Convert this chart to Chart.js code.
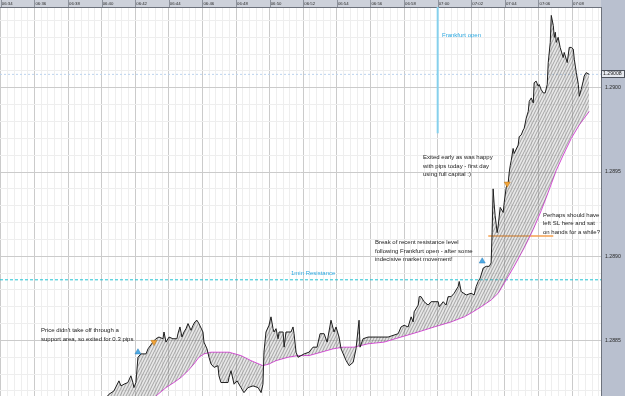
<!DOCTYPE html>
<html>
<head>
<meta charset="utf-8">
<script src="https://cdn.jsdelivr.net/npm/chart.js@4.4.1/dist/chart.umd.min.js"></script>
<style>
  html, body { margin: 0; padding: 0; background: #ffffff; }
  canvas { display: block; }
</style>
</head>
<body>
<canvas id="chart" width="625" height="396"></canvas>
<script>
// time in minutes after 06:00, prices
var priceTime = [39.96, 40.43, 40.73, 41.03, 41.15, 41.33, 41.56, 41.74, 41.86, 41.92, 42.04, 42.16, 42.34, 42.64, 42.76,
    43.05, 43.23, 43.41, 43.65, 43.71, 43.83, 44.01, 44.24, 44.48, 44.54, 44.66, 44.78, 44.90, 45.02, 45.14, 45.32, 45.44,
    45.55, 45.67, 45.79, 46.03, 46.09, 46.27, 46.39, 46.51, 46.69, 46.92, 46.98, 47.10, 47.28, 47.52, 47.58, 47.70, 47.88,
    48.06, 48.29, 48.47, 48.71, 49.01, 49.31, 49.49, 49.60, 49.66, 49.78, 49.96, 50.08, 50.20, 50.26, 50.38, 50.50, 50.56,
    50.80, 50.86, 50.97, 51.27, 51.39, 51.45, 51.57, 51.69, 52.05, 52.34, 52.58, 52.82, 53.00, 53.24, 53.42, 53.65, 53.83,
    53.95, 54.13, 54.25, 54.55, 54.73, 54.97, 55.14, 55.32, 55.38, 55.56, 55.86, 56.45, 57.05, 57.65, 57.82, 58.00, 58.24,
    58.42, 58.54, 58.60, 58.84, 58.90, 59.01, 59.19, 59.43, 59.61, 60.03, 60.09, 60.33, 60.50, 60.62, 60.80, 60.98, 61.22,
    61.28, 61.40, 61.70, 61.99, 62.17, 62.29, 62.41, 62.53, 62.71, 62.89, 63.07, 63.18, 63.24, 63.30, 63.36, 63.42, 63.54,
    63.60, 63.72, 63.90, 63.96, 64.08, 64.20, 64.26, 64.32, 64.38, 64.49, 64.55, 64.79, 64.85, 64.97, 65.09, 65.15, 65.27,
    65.39, 65.45, 65.57, 65.69, 65.74, 65.86, 65.98, 66.04, 66.16, 66.28, 66.40, 66.52, 66.58, 66.70, 66.76, 66.88, 66.94,
    67.00, 67.06, 67.17, 67.29, 67.47, 67.53, 67.71, 67.83, 67.95, 68.07, 68.13, 68.25, 68.37, 68.43, 68.54, 68.66, 68.72,
    68.84, 69.02];
var priceValue = [1.28812, 1.28818, 1.28820, 1.28826, 1.28823, 1.28824, 1.28825, 1.28829, 1.28825, 1.28822, 1.28825,
    1.28840, 1.28842, 1.28842, 1.28845, 1.28849, 1.28851, 1.28852, 1.28851, 1.28855, 1.28849, 1.28852, 1.28851, 1.28851,
    1.28854, 1.28858, 1.28852, 1.28855, 1.28857, 1.28860, 1.28856, 1.28859, 1.28861, 1.28862, 1.28860, 1.28855, 1.28849,
    1.28845, 1.28840, 1.28836, 1.28834, 1.28835, 1.28829, 1.28825, 1.28825, 1.28825, 1.28828, 1.28832, 1.28824, 1.28826,
    1.28822, 1.28819, 1.28822, 1.28823, 1.28822, 1.28819, 1.28824, 1.28843, 1.28855, 1.28859, 1.28864, 1.28857, 1.28855,
    1.28857, 1.28851, 1.28855, 1.28855, 1.28846, 1.28855, 1.28855, 1.28858, 1.28854, 1.28843, 1.28840, 1.28842, 1.28843,
    1.28846, 1.28846, 1.28854, 1.28854, 1.28849, 1.28862, 1.28855, 1.28858, 1.28852, 1.28845, 1.28838, 1.28835, 1.28837,
    1.28845, 1.28862, 1.28846, 1.28851, 1.28852, 1.28852, 1.28852, 1.28854, 1.28858, 1.28859, 1.28858, 1.28864, 1.28861,
    1.28867, 1.28871, 1.28876, 1.28876, 1.28873, 1.28871, 1.28873, 1.28873, 1.28870, 1.28873, 1.28871, 1.28876, 1.28876,
    1.28878, 1.28882, 1.28885, 1.28879, 1.28877, 1.28878, 1.28877, 1.28882, 1.28885, 1.28887, 1.28893, 1.28894, 1.28894,
    1.28896, 1.28914, 1.28940, 1.28931, 1.28924, 1.28914, 1.28918, 1.28929, 1.28926, 1.28932, 1.28941, 1.28944, 1.28950,
    1.28954, 1.28957, 1.28964, 1.28961, 1.28966, 1.28971, 1.28972, 1.28975, 1.28976, 1.28982, 1.28986, 1.28992, 1.28994,
    1.28991, 1.29003, 1.29004, 1.29001, 1.29002, 1.28999, 1.28997, 1.28997, 1.29002, 1.29015, 1.29027, 1.29043, 1.29037,
    1.29030, 1.29033, 1.29027, 1.29030, 1.29024, 1.29018, 1.29021, 1.29015, 1.29024, 1.29024, 1.29023, 1.29017, 1.29009,
    1.29002, 1.28995, 1.28999, 1.29004, 1.29007, 1.29009, 1.29008];

// slowest moving average of the ribbon (magenta)
var slowTime = [39.96, 41.74, 43.35, 43.83, 44.30, 44.72, 45.14, 45.49, 45.79, 46.09, 46.51, 47.10, 47.58, 48.29, 48.89,
    49.60, 49.96, 50.38, 51.09, 51.69, 52.34, 53.06, 53.77, 54.37, 55.02, 55.86, 56.81, 57.82, 58.84, 59.79, 60.80, 61.58,
    62.11, 62.59, 63.18, 63.60, 63.96, 64.55, 65.15, 65.69, 66.16, 66.58, 67.06, 67.47, 67.95, 68.43, 69.02];
var slowValue = [1.28791, 1.28804, 1.28818, 1.28822, 1.28825, 1.28828, 1.28832, 1.28836, 1.28840, 1.28842, 1.28843,
    1.28843, 1.28843, 1.28841, 1.28838, 1.28835, 1.28836, 1.28838, 1.28840, 1.28841, 1.28841, 1.28843, 1.28845, 1.28846,
    1.28846, 1.28848, 1.28849, 1.28852, 1.28855, 1.28858, 1.28861, 1.28864, 1.28867, 1.28870, 1.28874, 1.28878, 1.28884,
    1.28894, 1.28905, 1.28916, 1.28927, 1.28938, 1.28951, 1.28960, 1.28970, 1.28978, 1.28986];

var buyTime = [42.16, 62.65];
var buyPrice = [1.28843, 1.28897];
var sellTime = [43.11, 64.14];
var sellPrice = [1.28849, 1.28943];

var resistance = 1.28886;
var stopLevel = 1.28912;
var stopFrom = 63.01, stopTo = 66.88;
var frankfurtTime = 60;
var frankfurtLow = 1.28973;
var lastPrice = 1.29008;

var timeMin = 33.95, timeMax = 69.72;
var priceMin = 1.28817, priceMax = 1.29048;
var timeStep = 0.4, priceStep = 0.0001;

var notes = [
    { x: 442, y: 35, color: "#2ba8e0", lines: ["Frankfurt open"] },
    { x: 291, y: 273, color: "#2ba8e0", lines: ["1min Resistance"] },
    { x: 423, y: 157.5, color: "#1c1c1c", lines: ["Exited early as was happy", "with pips today - first day", "using full capital :)"] },
    { x: 543, y: 215, color: "#1c1c1c", lines: ["Perhaps should have", "left SL here and sat", "on hands for a while?"] },
    { x: 375, y: 242.5, color: "#1c1c1c", lines: ["Break of recent resistance level", "following Frankfurt open - after some", "indecisive market movement!"] },
    { x: 41, y: 330.5, color: "#1c1c1c", lines: ["Price didn't take off through a", "support area, so exited for 0.3 pips"] }
];

var FONT = "'Liberation Sans', Arial, sans-serif";

function toPoints(xs, ys) {
    var output = [];
    for (var i = 0; i < xs.length; ++i)
        output.push({ x: xs[i], y: ys[i] });
    return output;
}

function stepTicks(min, max, step) {
    var output = [];
    for (var k = Math.ceil(min / step - 1e-9); k * step <= max + 1e-12; ++k)
        output.push({ value: Math.round(k * step * 1e6) / 1e6 });
    return output;
}

function isMajorTime(v) {
    return Math.abs(v / 2 - Math.round(v / 2)) < 1e-6;
}

function isMajorPrice(v) {
    var p = v * 10000;
    return Math.abs(p - Math.round(p)) < 0.01 && Math.round(p) % 5 === 0;
}

function timeLabel(v) {
    var m = Math.round(v);
    var h = 6 + Math.floor(m / 60);
    var mm = m % 60;
    return "0" + h + ":" + (mm < 10 ? "0" + mm : mm);
}

// hatch that stands in for the thin lines of the moving average ribbon
function ribbonPattern() {
    var tile = document.createElement("canvas");
    tile.width = 3;
    tile.height = 6;
    var t = tile.getContext("2d");
    t.fillStyle = "rgba(120,120,120,0.18)";
    t.fillRect(0, 0, 3, 6);
    t.strokeStyle = "rgba(95,95,95,0.55)";
    t.lineWidth = 0.9;
    for (var k = -1; k <= 1; k++) {
        t.beginPath();
        t.moveTo(-1 + k * 3, 8);
        t.lineTo(4 + k * 3, -2);
        t.stroke();
    }
    return t.createPattern(tile, "repeat");
}

var panels = {
    id: "panels",
    beforeDraw: function (chart) {
        var c = chart.ctx, a = chart.chartArea;
        c.save();
        c.fillStyle = "#ffffff";
        c.fillRect(0, 0, chart.width, chart.height);
        c.fillStyle = "#cdd1da";
        c.fillRect(0, 0, chart.width, a.top);
        c.fillStyle = "#b9c0cf";
        c.fillRect(a.right, 0, chart.width - a.right, chart.height);
        c.restore();
    },
    afterDraw: function (chart) {
        var c = chart.ctx, a = chart.chartArea;
        var xs = chart.scales.x, ys = chart.scales.y;
        c.save();
        // separators in the time header
        c.strokeStyle = "#8d929c";
        c.lineWidth = 1;
        xs.ticks.forEach(function (t) {
            if (!isMajorTime(t.value)) return;
            var px = Math.round(xs.getPixelForValue(t.value)) + 0.5;
            c.beginPath();
            c.moveTo(px, 0);
            c.lineTo(px, a.top);
            c.stroke();
        });
        // current price box
        var py = Math.round(ys.getPixelForValue(lastPrice));
        c.fillStyle = "#e6e9ef";
        c.fillRect(a.right, py - 3.5, chart.width - a.right, 7);
        c.strokeStyle = "#4d525c";
        c.strokeRect(a.right + 0.5, py - 3.5, chart.width - a.right - 1, 7);
        c.fillStyle = "#1c1c1c";
        c.font = "5.2px " + FONT;
        c.textBaseline = "middle";
        c.fillText(lastPrice.toFixed(5), a.right + 2, py);
        // notes
        c.font = "6px " + FONT;
        notes.forEach(function (n) {
            c.fillStyle = n.color;
            n.lines.forEach(function (line, i) {
                c.fillText(line, n.x, n.y + i * 8.5);
            });
        });
        c.restore();
    }
};

new Chart(document.getElementById("chart"), {
    type: "line",
    data: {
        datasets: [{
            data: toPoints(slowTime, slowValue),
            borderColor: "#e04ce0",
            borderWidth: 1,
            order: 2
        }, {
            data: toPoints(priceTime, priceValue),
            borderColor: "#1e1e1e",
            borderWidth: 1,
            fill: 0,
            backgroundColor: ribbonPattern(),
            order: 1
        }, {
            data: [{ x: timeMin, y: resistance }, { x: timeMax, y: resistance }],
            borderColor: "#22c3d3",
            borderWidth: 1,
            borderDash: [3, 2],
            order: 3
        }, {
            data: [{ x: stopFrom, y: stopLevel }, { x: stopTo, y: stopLevel }],
            borderColor: "#f5a050",
            borderWidth: 1.5,
            order: 3
        }, {
            data: [{ x: frankfurtTime, y: frankfurtLow }, { x: frankfurtTime, y: priceMax }],
            borderColor: "#86d0ec",
            borderWidth: 2,
            order: 3
        }, {
            data: [{ x: timeMin, y: lastPrice }, { x: timeMax, y: lastPrice }],
            borderColor: "#bcd3ee",
            borderWidth: 1,
            borderDash: [2, 2],
            order: 4
        }, {
            data: toPoints(buyTime, buyPrice),
            showLine: false,
            pointStyle: "triangle",
            pointRadius: 3.5,
            pointBackgroundColor: "#4eaae4",
            pointBorderColor: "#2f7fb8",
            pointBorderWidth: 0.5,
            order: 0
        }, {
            data: toPoints(sellTime, sellPrice),
            showLine: false,
            pointStyle: "triangle",
            pointRotation: 180,
            pointRadius: 3.5,
            pointBackgroundColor: "#f2a438",
            pointBorderColor: "#b87418",
            pointBorderWidth: 0.5,
            order: 0
        }]
    },
    options: {
        responsive: false,
        animation: false,
        devicePixelRatio: 1,
        layout: { padding: 0, autoPadding: false },
        elements: { point: { radius: 0 }, line: { tension: 0 } },
        plugins: { legend: { display: false }, tooltip: { enabled: false } },
        scales: {
            x: {
                type: "linear",
                position: "top",
                min: timeMin,
                max: timeMax,
                bounds: "data",
                afterFit: function (s) {
                    s.height = 7;
                    s.paddingLeft = 0;
                    s.paddingRight = 0;
                },
                afterBuildTicks: function (s) { s.ticks = stepTicks(timeMin, timeMax, timeStep); },
                ticks: {
                    autoSkip: false,
                    maxRotation: 0,
                    align: "start",
                    labelOffset: 1,
                    padding: 1,
                    color: "#2a2a2a",
                    font: { size: 4.3, family: FONT },
                    callback: function (v) { return isMajorTime(v) ? timeLabel(v) : ""; }
                },
                grid: {
                    drawTicks: false,
                    color: function (ctx) { return ctx.tick && isMajorTime(ctx.tick.value) ? "#cbcbcb" : "#eeeeee"; }
                },
                border: { color: "#6d727c" }
            },
            y: {
                type: "linear",
                position: "right",
                min: priceMin,
                max: priceMax,
                bounds: "data",
                afterFit: function (s) {
                    s.width = 24;
                    s.paddingTop = 0;
                    s.paddingBottom = 0;
                },
                afterBuildTicks: function (s) { s.ticks = stepTicks(priceMin, priceMax, priceStep); },
                ticks: {
                    autoSkip: false,
                    padding: 4,
                    color: "#2a2a2a",
                    font: { size: 5.2, family: FONT },
                    callback: function (v) { return isMajorPrice(v) ? v.toFixed(4) : ""; }
                },
                grid: {
                    drawTicks: false,
                    color: function (ctx) { return ctx.tick && isMajorPrice(ctx.tick.value) ? "#cbcbcb" : "#eeeeee"; }
                },
                border: { color: "#6d727c" }
            }
        }
    },
    plugins: [panels]
});
</script>
</body>
</html>
